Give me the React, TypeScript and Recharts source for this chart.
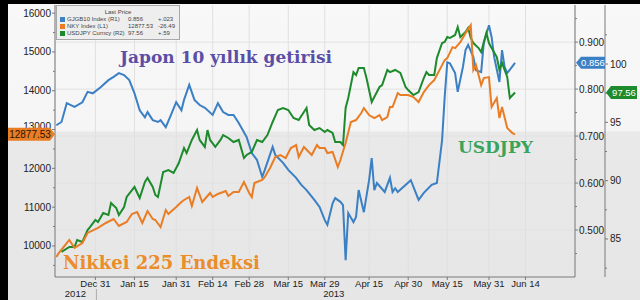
import { LineChart, Line, XAxis, YAxis, CartesianGrid, ReferenceLine } from 'recharts'

// days counted from 2012-12-31
const xTicks = [0, 15, 31, 45, 59, 74, 88, 105, 120, 135, 151, 165]
const xTickLabels = ['Dec 31', 'Jan 15', 'Jan 31', 'Feb 14', 'Feb 28', 'Mar 15', 'Mar 29', 'Apr 15', 'Apr 30', 'May 15', 'May 31', 'Jun 14']

const nkyTicks = [10000, 11000, 12000, 13000, 14000, 15000, 16000]
const nkyMinorTicks = [9500, 10500, 11500, 12500, 13500, 14500, 15500]
const yieldTicks = [0.5, 0.6, 0.7, 0.8, 0.9]
const yieldMinorTicks = [0.45, 0.55, 0.65, 0.75, 0.85, 0.95]
const usdTicks = [85, 90, 95, 100]
const usdMinorTicks = [82.5, 87.5, 92.5, 97.5, 102.5]

const nkyLast = 12877.53
const yieldLast = 0.856
const usdLast = 97.56

// GJGB10 Index (R1)
const yieldDays = [-15, -13, -11, -8, -5, -3, -1, 2, 5, 7, 9, 11, 13, 15, 17, 19, 20, 22, 24, 25, 27, 29, 31, 33, 34, 36, 38, 40, 42, 45, 47, 49, 51, 53, 55, 58, 60, 62, 64, 65, 68, 69, 72, 74, 77, 79, 81, 84, 86, 88, 89, 91, 92, 94, 95, 96, 97, 99, 100, 101, 103, 105, 106, 107, 108, 111, 113, 114, 115, 116, 121, 124, 126, 129, 131, 133, 134, 135, 136, 138, 139, 141, 142, 143, 145, 146, 148, 149, 151, 152, 153, 155, 156, 157, 158, 161]
const yieldValues = [0.723, 0.73, 0.77, 0.762, 0.772, 0.794, 0.791, 0.804, 0.819, 0.826, 0.834, 0.83, 0.819, 0.791, 0.755, 0.74, 0.751, 0.734, 0.73, 0.734, 0.719, 0.745, 0.772, 0.755, 0.777, 0.809, 0.777, 0.766, 0.76, 0.745, 0.77, 0.751, 0.745, 0.745, 0.728, 0.698, 0.664, 0.649, 0.613, 0.628, 0.677, 0.66, 0.643, 0.628, 0.611, 0.596, 0.585, 0.564, 0.549, 0.521, 0.511, 0.557, 0.568, 0.56, 0.553, 0.436, 0.536, 0.517, 0.528, 0.585, 0.538, 0.606, 0.653, 0.585, 0.6, 0.581, 0.611, 0.581, 0.589, 0.581, 0.606, 0.564, 0.579, 0.596, 0.6, 0.691, 0.783, 0.857, 0.855, 0.834, 0.794, 0.847, 0.883, 0.894, 0.868, 0.84, 0.836, 0.898, 0.936, 0.911, 0.868, 0.815, 0.883, 0.847, 0.834, 0.856]

// NKY Index (L1)
const nkyDays = [-15, -14, -10, -8, -5, -3, 1, 4, 7, 9, 12, 14, 16, 18, 20, 22, 23, 25, 27, 28, 31, 33, 34, 36, 37, 39, 41, 44, 45, 47, 50, 51, 53, 55, 57, 59, 60, 61, 64, 65, 67, 69, 71, 73, 75, 77, 78, 80, 83, 85, 86, 88, 89, 91, 93, 94, 96, 98, 100, 102, 103, 105, 107, 109, 110, 112, 113, 114, 116, 117, 120, 122, 124, 126, 128, 130, 132, 134, 135, 137, 138, 140, 142, 144, 145, 146, 147, 148, 149, 151, 152, 154, 155, 156, 158, 160, 161]
const nkyValues = [9717, 9820, 10155, 9949, 10077, 10335, 10464, 10592, 10695, 10515, 10618, 10824, 10876, 10592, 10901, 10695, 10670, 10489, 10927, 10824, 11004, 11133, 11185, 11262, 11030, 11494, 11133, 11365, 11262, 11339, 11416, 11288, 11391, 11391, 11648, 11365, 11262, 11622, 11700, 11777, 12009, 12292, 12343, 12266, 12524, 12601, 12292, 12549, 12343, 12601, 12524, 12524, 12395, 12421, 12034, 12215, 12652, 13193, 13245, 13425, 13554, 13373, 13296, 13373, 13245, 13322, 13579, 13579, 13940, 13888, 13888, 13837, 13708, 13966, 14146, 14275, 14532, 14790, 14841, 15124, 15099, 15253, 15485, 15691, 14532, 14661, 14403, 14146, 14326, 14352, 13579, 13811, 13296, 13579, 13039, 12910, 12877.53]

// USDJPY Curncy (R2)
const usdDays = [-13, -10, -8, -7, -5, -3, -2, 0, 1, 3, 5, 6, 8, 9, 11, 12, 15, 17, 19, 20, 22, 23, 24, 26, 28, 30, 32, 34, 35, 37, 39, 40, 42, 43, 44, 46, 48, 49, 51, 53, 55, 57, 58, 60, 62, 64, 66, 68, 70, 72, 74, 76, 78, 80, 81, 82, 84, 86, 88, 89, 91, 92, 94, 95, 96, 97, 99, 100, 101, 103, 104, 106, 108, 109, 110, 112, 113, 115, 117, 119, 120, 122, 124, 126, 127, 128, 130, 131, 133, 134, 135, 136, 138, 139, 140, 142, 143, 144, 145, 147, 148, 150, 151, 152, 154, 155, 156, 158, 159, 161]
const usdValues = [83.89, 84.31, 84.31, 84.91, 84.74, 85.77, 86.03, 86.63, 86.46, 87.23, 87.06, 88.09, 87.66, 87.06, 87.74, 88.6, 89.46, 88.51, 89.89, 90.23, 89.46, 88.77, 88.6, 90.74, 90.91, 90.66, 91.51, 92.8, 92.37, 93.49, 94.34, 93.49, 92.89, 94.34, 93.49, 92.89, 93.49, 93.91, 93.66, 93.31, 93.49, 91.94, 92.2, 92.46, 93.49, 93.31, 93.91, 95.03, 96.06, 96.23, 96.06, 95.37, 95.2, 95.89, 96.23, 94.77, 94.34, 94.51, 94.17, 94.34, 94.09, 93.31, 93.31, 93.06, 96.23, 97.09, 99.31, 99.06, 99.66, 99.66, 98.8, 96.74, 97.6, 98.03, 98.2, 99.49, 99.31, 99.49, 99.23, 98.03, 97.77, 97.34, 97.6, 98.8, 99.31, 99.06, 99.06, 100.51, 101.8, 101.89, 102.31, 102.23, 102.49, 103.17, 102.31, 102.74, 103.09, 102.23, 101.8, 101.37, 101.03, 102.66, 101.8, 101.37, 100.6, 99.49, 100.09, 98.89, 97.09, 97.56]

const yieldData = yieldDays.map((d, i) => ({ d, v: yieldValues[i] }))
const nkyData = nkyDays.map((d, i) => ({ d, v: nkyValues[i] }))
const usdData = usdDays.map((d, i) => ({ d, v: usdValues[i] }))

const BLUE = '#3b7fc4'
const ORANGE = '#e97d25'
const GREEN = '#1d8a2c'
const AXIS = '#7a7a7a'
const tickFont = { fontFamily: 'Liberation Sans, sans-serif', fontSize: 10, fill: '#222' }

function XTick({ x, y, payload }: any) {
  const i = xTicks.indexOf(payload.value)
  return (
    <g>
      <line x1={x} x2={x} y1={y} y2={y + 3} stroke={AXIS} />
      <text x={x} y={y + 10} textAnchor="middle" {...tickFont} fontSize={9.5}>{xTickLabels[i]}</text>
      {i === 0 && (
        <>
          <text x={x - 20} y={y + 20} textAnchor="middle" {...tickFont} fontSize={9.5}>2012</text>
          <line x1={x + 1} x2={x + 1} y1={y + 12} y2={y + 23} stroke="#aaa" />
        </>
      )}
      {i === 6 && <text x={x + 9} y={y + 20} textAnchor="middle" {...tickFont} fontSize={9.5}>2013</text>}
    </g>
  )
}

function LeftTick({ x, y, payload }: any) {
  const v = payload.value
  if (v === nkyLast) {
    return (
      <g>
        <polygon points={`${x - 47},${y - 6.5} ${x - 5},${y - 6.5} ${x},${y} ${x - 5},${y + 6.5} ${x - 47},${y + 6.5}`} fill={ORANGE} />
        <text x={x - 25} y={y + 3.5} textAnchor="middle" {...tickFont} fill="#2a1200">{v.toFixed(2)}</text>
      </g>
    )
  }
  const major = nkyTicks.includes(v)
  return (
    <g>
      <line x1={x} x2={x - (major ? 3 : 2)} y1={y} y2={y} stroke={AXIS} />
      {major && <text x={x - 4} y={v === 13000 ? y : y + 3.5} textAnchor="end" {...tickFont}>{v}</text>}
    </g>
  )
}

function YieldTick({ x, y, payload }: any) {
  const v = payload.value
  if (v === yieldLast) {
    return (
      <g>
        <polygon points={`${x + 1},${y} ${x + 6},${y - 6} ${x + 30},${y - 6} ${x + 30},${y + 6} ${x + 6},${y + 6}`} fill={BLUE} />
        <text x={x + 18} y={y + 3.5} textAnchor="middle" {...tickFont} fontSize={9.5} fill="#fff">{v.toFixed(3)}</text>
      </g>
    )
  }
  const major = yieldTicks.includes(v)
  return (
    <g>
      <line x1={x} x2={x + (major ? 3 : 2)} y1={y} y2={y} stroke={AXIS} />
      {major && <text x={x + 4} y={y + 3.5} textAnchor="start" {...tickFont}>{v.toFixed(3)}</text>}
    </g>
  )
}

function UsdTick({ x, y, payload }: any) {
  const v = payload.value
  if (v === usdLast) {
    return (
      <g>
        <polygon points={`${x + 1},${y} ${x + 6},${y - 6.5} ${x + 32},${y - 6.5} ${x + 32},${y + 6.5} ${x + 6},${y + 6.5}`} fill={GREEN} />
        <text x={x + 19} y={y + 3.5} textAnchor="middle" {...tickFont} fontSize={9.5} fill="#fff">{v.toFixed(2)}</text>
      </g>
    )
  }
  const major = usdTicks.includes(v)
  return (
    <g>
      <line x1={x} x2={x + (major ? 3 : 2)} y1={y} y2={y} stroke={AXIS} />
      {major && <text x={x + 5} y={y + 3.5} textAnchor="start" {...tickFont}>{v}</text>}
    </g>
  )
}

const serif = { position: 'absolute' as const, fontFamily: '"DejaVu Serif", serif', fontWeight: 'bold' as const, whiteSpace: 'nowrap' as const, lineHeight: '20px' }
const legendText = { position: 'absolute' as const, fontFamily: 'Liberation Sans, sans-serif', fontSize: 6, color: '#444', lineHeight: '7px', whiteSpace: 'nowrap' as const }

const legendRows = [
  { color: BLUE, name: 'GJGB10 Index  (R1)', last: '0.856', chg: '+.023' },
  { color: ORANGE, name: 'NKY Index  (L1)', last: '12877.53', chg: '-26.49' },
  { color: GREEN, name: 'USDJPY Curncy  (R2)', last: '97.56', chg: '+.59' },
]

export default function App() {
  return (
    <div style={{ position: 'fixed', left: 0, top: 0, width: 640, height: 300, overflow: 'hidden', background: 'linear-gradient(to bottom, #f8f8f8 0px, #f5f5f5 131px, #e9e9e9 132px, #e6e6e6 300px)' }}>
      <div style={{ position: 'absolute', left: 0, top: 0 }}>
        <LineChart width={640} height={300} margin={{ top: 5, right: 3, bottom: 0, left: 8 }}>
          <CartesianGrid horizontal={false} stroke="#e0e0e0" yAxisId="r1" />
          <XAxis type="number" dataKey="d" domain={[-15.5, 184]} allowDataOverflow ticks={xTicks} interval={0} height={23} tickSize={0} tickMargin={0} tickLine={false} stroke={AXIS} tick={(p: any) => <XTick {...p} />} />
          <YAxis yAxisId="left" orientation="left" type="number" domain={[9200, 16210]} allowDataOverflow width={47} ticks={[...nkyMinorTicks, ...nkyTicks, nkyLast]} interval={0} tickSize={0} tickMargin={0} tickLine={false} stroke={AXIS} tick={(p: any) => <LeftTick {...p} />} />
          <YAxis yAxisId="r1" orientation="right" type="number" domain={[0.4, 0.979]} allowDataOverflow width={30} ticks={[...yieldMinorTicks, ...yieldTicks, yieldLast]} interval={0} tickSize={0} tickMargin={0} tickLine={false} stroke={AXIS} tick={(p: any) => <YieldTick {...p} />} />
          <YAxis yAxisId="r2" orientation="right" type="number" domain={[81.74, 105.06]} allowDataOverflow width={32} ticks={[...usdMinorTicks, ...usdTicks, usdLast]} interval={0} tickSize={0} tickMargin={0} tickLine={false} stroke={AXIS} tick={(p: any) => <UsdTick {...p} />} />
          {yieldTicks.map((v) => (
            <ReferenceLine key={v} yAxisId="r1" y={v} stroke="#e2e2e2" />
          ))}
          <Line yAxisId="r1" data={yieldData} dataKey="v" type="linear" stroke={BLUE} strokeWidth={2} dot={false} isAnimationActive={false} />
          <Line yAxisId="r2" data={usdData} dataKey="v" type="linear" stroke={GREEN} strokeWidth={2} dot={false} isAnimationActive={false} />
          <Line yAxisId="left" data={nkyData} dataKey="v" type="linear" stroke={ORANGE} strokeWidth={2} dot={false} isAnimationActive={false} />
        </LineChart>
      </div>

      <div style={{ position: 'absolute', left: 56, top: 5, width: 122, height: 33, background: '#eeeeee', border: '1px solid #a8a8a8' }}>
        <div style={{ ...legendText, left: 0, width: 122, top: 3, textAlign: 'center' }}>Last Price</div>
        {legendRows.map((r, i) => (
          <div key={r.name}>
            <div style={{ position: 'absolute', left: 3, top: 11 + i * 7, width: 5, height: 5, background: r.color }} />
            <div style={{ ...legendText, left: 10, top: 10 + i * 7 }}>{r.name}</div>
            <div style={{ ...legendText, left: 71, top: 10 + i * 7 }}>{r.last}</div>
            <div style={{ ...legendText, left: 101, top: 10 + i * 7 }}>{r.chg}</div>
          </div>
        ))}
      </div>

      <div style={{ ...serif, left: 120, top: 47, fontSize: 17, color: '#5a4ea6' }}>Japon 10 yıllık getirisi</div>
      <div style={{ ...serif, left: 458, top: 137, fontSize: 17, color: '#3aa35c' }}>USDJPY</div>
      <div style={{ ...serif, left: 63, top: 253, fontSize: 18, color: '#ea8d2a' }}>Nikkei 225 Endeksi</div>

      <div style={{ position: 'absolute', left: 0, top: 0, width: 640, height: 4, background: '#000' }} />
      <div style={{ position: 'absolute', left: 0, top: 0, width: 8, height: 300, background: '#000' }} />
    </div>
  )
}
